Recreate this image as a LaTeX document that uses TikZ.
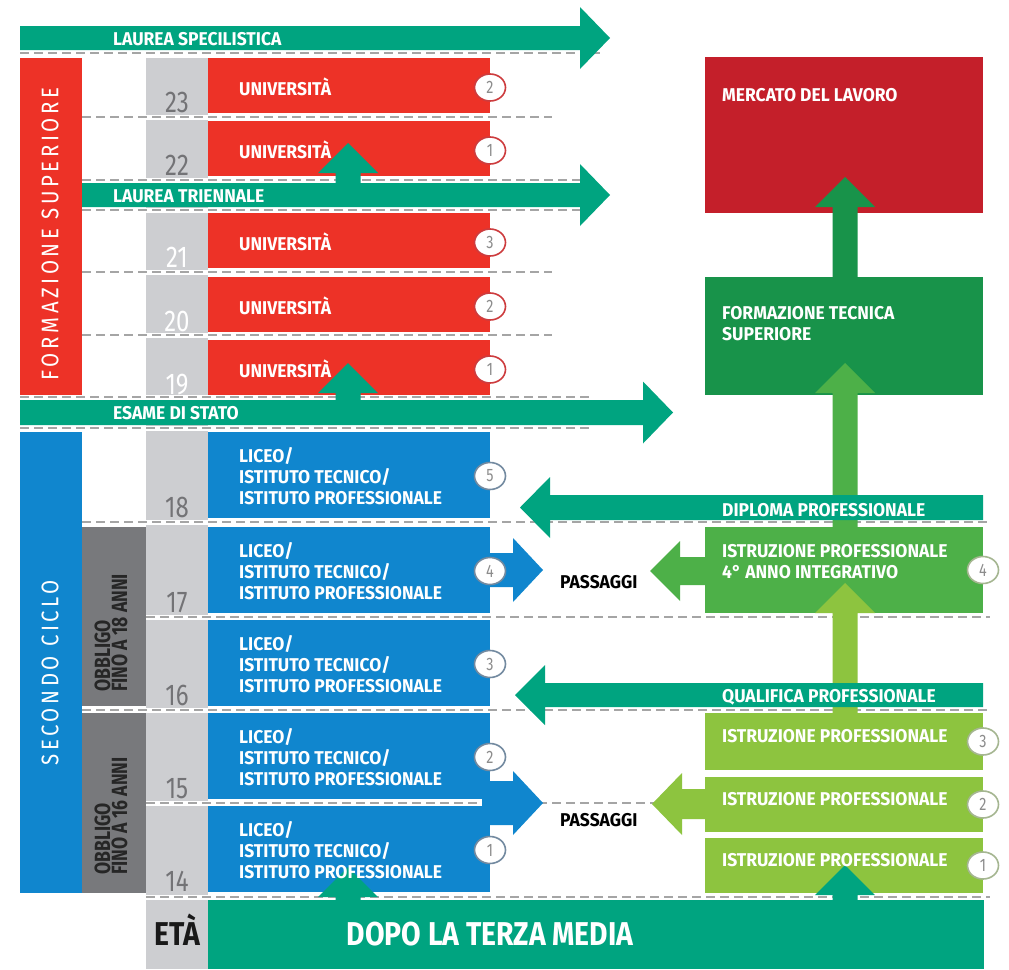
\documentclass[tikz,border=0pt]{standalone}
\usepackage{fontspec}
\setmainfont{Fira Sans}[FakeStretch=0.945]
\newfontfamily\agefont{Fira Sans}[FakeStretch=0.8]
\newfontfamily\narrowfont{Fira Sans}[FakeStretch=0.8]
\newfontfamily\heavyfont{Fira Sans}[FakeStretch=0.86]
\newfontfamily\spacedfont{Fira Sans}[FakeStretch=0.85,LetterSpace=15]
\usetikzlibrary{shapes.geometric}

\definecolor{bandteal}{RGB}{0,164,128}
\definecolor{unired}{RGB}{237,50,39}
\definecolor{jobred}{RGB}{196,31,42}
\definecolor{cycleblue}{RGB}{16,134,206}
\definecolor{itsgreen}{RGB}{24,147,74}
\definecolor{midgreen}{RGB}{77,176,72}
\definecolor{limegreen}{RGB}{141,196,63}
\definecolor{agegray}{RGB}{205,206,209}
\definecolor{duegray}{RGB}{120,121,124}
\definecolor{rulegray}{RGB}{165,165,165}
\definecolor{agedark}{RGB}{115,115,118}
\definecolor{ringtext}{RGB}{140,140,140}
\definecolor{ringred}{RGB}{205,60,62}
\definecolor{ringblue}{RGB}{115,138,160}
\definecolor{ringgreen}{RGB}{165,182,145}

% block arrows: colour, start, tip, centre line, half band, half head
\newcommand{\bandright}[6]{%
  \fill[#1] (#2,#4-#5) -- (#3-30,#4-#5) -- (#3-30,#4-#6) -- (#3,#4)
    -- (#3-30,#4+#6) -- (#3-30,#4+#5) -- (#2,#4+#5) -- cycle;}
\newcommand{\bandleft}[6]{%
  \fill[#1] (#2,#4-#5) -- (#3+30,#4-#5) -- (#3+30,#4-#6) -- (#3,#4)
    -- (#3+30,#4+#6) -- (#3+30,#4+#5) -- (#2,#4+#5) -- cycle;}
% colour, x of shaft, y start, y tip
\newcommand{\bandup}[4]{%
  \fill[#1] (#2-12.5,#3) -- (#2-12.5,#4+30) -- (#2-30,#4+30) -- (#2,#4)
    -- (#2+30,#4+30) -- (#2+12.5,#4+30) -- (#2+12.5,#3) -- cycle;}

\begin{document}
\begin{tikzpicture}[
  x=1pt, y=-1pt,
  box/.style={anchor=north west, inner sep=0pt, outer sep=0pt},
  lbl/.style={text=white, inner sep=0pt, align=left, font=\bfseries\fontsize{18.5}{21}\selectfont},
  agenum/.style={inner sep=0pt, anchor=base, font=\agefont\fontsize{30}{30}\selectfont},
  ring/.style={ellipse, fill=white, line width=1.6pt, minimum width=31pt, minimum height=27pt,
    inner sep=0pt, text=ringtext, font=\agefont\fontsize{18}{18}\selectfont},
  sidetext/.style={text=white, rotate=90, inner sep=0pt, font=\spacedfont\fontsize{24}{24}\selectfont},
  duetext/.style={rotate=90, anchor=west, align=left, inner sep=0pt, text=black!85,
    font=\narrowfont\bfseries\fontsize{22}{17}\selectfont},
  agerule/.style={draw=rulegray, line width=1.3pt, dash pattern=on 9pt off 5pt,
    preaction={draw=white, solid, line width=5pt}}
]
\useasboundingbox (0,0) rectangle (1009,969);
\fill[white] (0,0) rectangle (1009,969);

% age column and side bars
\node[box, fill=agegray, minimum width=62pt, minimum height=911pt] (agecol) at (146,58) {};
\node[box, fill=unired, minimum width=62pt, minimum height=337pt] (higher) at (20,58) {};
\node[box, fill=cycleblue, minimum width=62pt, minimum height=461pt] (second) at (20,432) {};
\node[box, fill=duegray, minimum width=64pt, minimum height=179pt] (due18) at (82,527) {};
\node[box, fill=duegray, minimum width=64pt, minimum height=180pt] (due16) at (82,713) {};

% year separators
\foreach \y/\xa/\xb in {53/20/600, 117/82/552, 180/82/590, 210/82/590, 272/82/552,
    335/82/552, 397/20/590, 428/20/590, 522/82/990, 617/146/990, 710/82/990,
    803/146/705, 897/146/990}
  \draw[agerule] (\xa,\y) -- (\xb,\y);

% university years
\foreach \age/\yt in {23/58, 22/121, 21/213, 20/277, 19/340}
  \node[box, fill=unired, minimum width=282pt, minimum height=55pt] (uni\age) at (208,\yt) {};

% upper secondary years
\foreach \age/\yt in {18/432, 17/527, 16/620, 15/713, 14/806}
  \node[box, fill=cycleblue, minimum width=282pt, minimum height=86pt] (sec\age) at (208,\yt) {};

% right column
\node[box, fill=jobred, minimum width=278pt, minimum height=156pt] (job) at (705,57) {};
\node[box, fill=itsgreen, minimum width=278pt, minimum height=118pt] (its) at (705,277) {};
\node[box, fill=midgreen, minimum width=278pt, minimum height=86pt] (prof4) at (705,527) {};
\node[box, fill=limegreen, minimum width=278pt, minimum height=57pt] (prof3) at (705,713) {};
\node[box, fill=limegreen, minimum width=278pt, minimum height=55pt] (prof2) at (705,777) {};
\node[box, fill=limegreen, minimum width=278pt, minimum height=55pt] (prof1) at (705,838) {};

% bottom band
\node[box, fill=bandteal, minimum width=776pt, minimum height=69pt] (after) at (208,900) {};

% upward arrows
\bandup{bandteal}{348}{183}{143}
\bandup{bandteal}{348}{400}{363}
\bandup{bandteal}{348}{900}{867}
\bandup{bandteal}{845}{900}{865}
\bandup{itsgreen}{845}{277}{177}
\bandup{midgreen}{845}{527}{363}
\bandup{limegreen}{845}{713}{583}

% degree and diploma bands
\bandright{bandteal}{20}{610}{38}{12}{31}
\bandright{bandteal}{82}{610}{195}{12}{31}
\bandright{bandteal}{20}{673}{412.5}{12.5}{31}
\bandleft{bandteal}{983}{520}{507.5}{12.5}{30.5}
\bandleft{bandteal}{983}{515}{695}{12}{30}

% transfers
\bandright{cycleblue}{488}{543}{570}{17}{32}
\bandright{cycleblue}{482}{543}{803}{22}{32}
\bandleft{midgreen}{705}{650}{571}{14}{30}
\bandleft{limegreen}{705}{652}{804}{15}{31}

% labels
\node[lbl, anchor=base west] (tspec) at (113,45) {LAUREA SPECILISTICA};
\node[lbl, anchor=base west] (ttri) at (113,202) {LAUREA TRIENNALE};
\node[lbl, anchor=base west] (tstate) at (113,419) {ESAME DI STATO};
\node[lbl, anchor=base west] (tdipl) at (722,516) {DIPLOMA PROFESSIONALE};
\node[lbl, anchor=base west] (tqual) at (722,702) {QUALIFICA PROFESSIONALE};

\foreach \age/\yt/\n/\agecol in {23/58/2/agedark, 22/121/1/agedark, 21/213/3/white,
    20/277/2/white, 19/340/1/white} {
  \node[lbl, anchor=base west] (tuni\age) at (239,\yt+37) {UNIVERSITÀ};
  \node[ring, draw=ringred] (nuni\age) at ([yshift=-2pt]uni\age.east) {\n};
  \node[agenum, text=\agecol] (age\age) at (177,\yt+54) {\age};
}
\foreach \age/\yt/\n in {18/432/5, 17/527/4, 16/620/3, 15/713/2, 14/806/1} {
  \node[lbl, anchor=base west] (tsec\age) at (239,\yt+72)
    {LICEO/\\ISTITUTO TECNICO/\\ISTITUTO PROFESSIONALE};
  \node[ring, draw=ringblue] (nsec\age) at ([yshift=-1pt]sec\age.east) {\n};
  \node[agenum, text=agedark] (age\age) at (177,\yt+85) {\age};
}

\node[lbl, anchor=base west] (tjob) at (722,101) {MERCATO DEL LAVORO};
\node[lbl, anchor=base west] (tits) at (722,340) {FORMAZIONE TECNICA\\SUPERIORE};
\node[lbl, anchor=base west] (tprof4) at (722,578) {ISTRUZIONE PROFESSIONALE\\4° ANNO INTEGRATIVO};
\node[lbl, anchor=base west] (tprof3) at (722,742) {ISTRUZIONE PROFESSIONALE};
\node[lbl, anchor=base west] (tprof2) at (722,805) {ISTRUZIONE PROFESSIONALE};
\node[lbl, anchor=base west] (tprof1) at (722,866) {ISTRUZIONE PROFESSIONALE};
\node[ring, draw=ringgreen] (nprof4) at (prof4.east) {4};
\node[ring, draw=ringgreen] (nprof3) at (prof3.east) {3};
\node[ring, draw=ringgreen] (nprof2) at (prof2.east) {2};
\node[ring, draw=ringgreen] (nprof1) at (prof1.east) {1};

\node[lbl, text=black, anchor=base west] (pass17) at (560,588) {PASSAGGI};
\node[lbl, text=black, anchor=base west] (pass15) at (560,826) {PASSAGGI};

\node[sidetext] (thigher) at (50,234) {FORMAZIONE SUPERIORE};
\node[sidetext] (tsecond) at (50,673) {SECONDO CICLO};
\node[duetext] (tdue18) at (111,692) {OBBLIGO\\FINO A 18 ANNI};
\node[duetext] (tdue16) at (111,875) {OBBLIGO\\FINO A 16 ANNI};

\node[inner sep=0pt, anchor=base, text=black!90, font=\heavyfont\bfseries\fontsize{33}{33}\selectfont]
  (age) at (177,945) {ETÀ};
\node[inner sep=0pt, anchor=base, text=white, font=\heavyfont\bfseries\fontsize{33}{33}\selectfont]
  (tafter) at (490,945) {DOPO LA TERZA MEDIA};
\end{tikzpicture}
\end{document}
